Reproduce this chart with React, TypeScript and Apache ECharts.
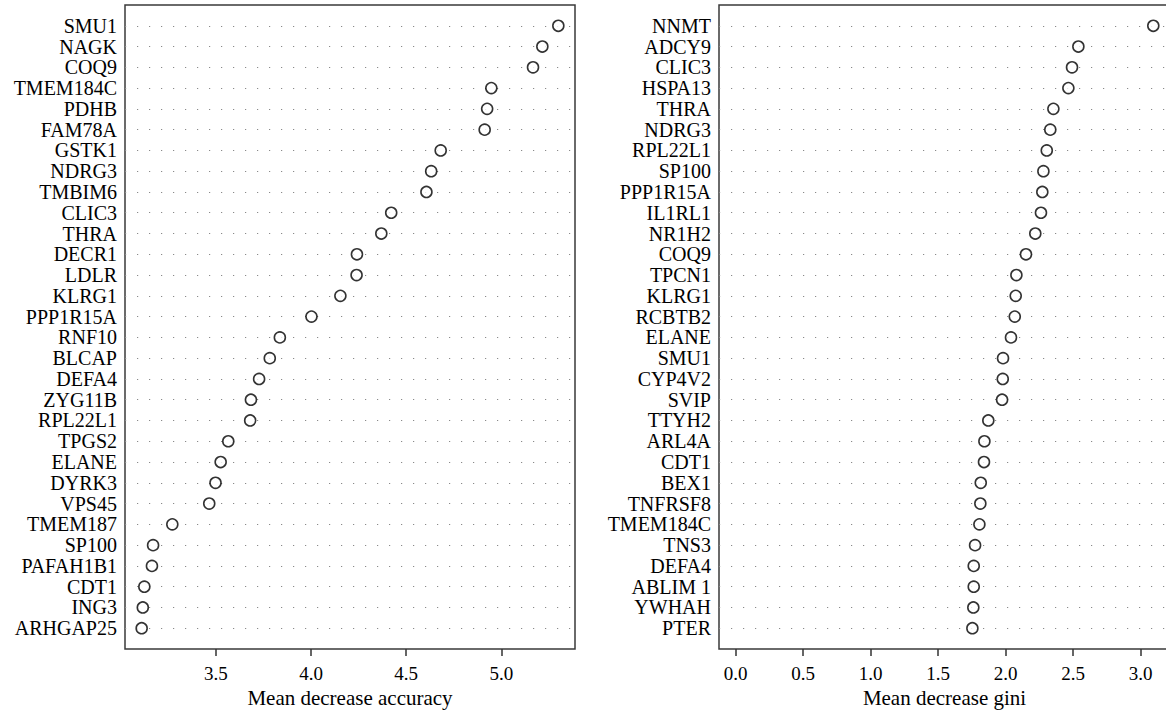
import React, { useEffect, useRef } from "react";
import * as echarts from "echarts";

// Left panel: Mean decrease accuracy (top to bottom)
const accGenes = [
  "SMU1", "NAGK", "COQ9", "TMEM184C", "PDHB", "FAM78A", "GSTK1", "NDRG3", "TMBIM6", "CLIC3",
  "THRA", "DECR1", "LDLR", "KLRG1", "PPP1R15A", "RNF10", "BLCAP", "DEFA4", "ZYG11B", "RPL22L1",
  "TPGS2", "ELANE", "DYRK3", "VPS45", "TMEM187", "SP100", "PAFAH1B1", "CDT1", "ING3", "ARHGAP25",
];
const accValues = [
  5.299, 5.215, 5.166, 4.947, 4.925, 4.912, 4.681, 4.631, 4.606, 4.421,
  4.369, 4.241, 4.239, 4.154, 4.002, 3.836, 3.783, 3.727, 3.684, 3.680,
  3.565, 3.525, 3.498, 3.465, 3.271, 3.170, 3.164, 3.124, 3.116, 3.110,
];
const accTicks = [3.5, 4.0, 4.5, 5.0];

// Right panel: Mean decrease gini (top to bottom)
const giniGenes = [
  "NNMT", "ADCY9", "CLIC3", "HSPA13", "THRA", "NDRG3", "RPL22L1", "SP100", "PPP1R15A", "IL1RL1",
  "NR1H2", "COQ9", "TPCN1", "KLRG1", "RCBTB2", "ELANE", "SMU1", "CYP4V2", "SVIP", "TTYH2",
  "ARL4A", "CDT1", "BEX1", "TNFRSF8", "TMEM184C", "TNS3", "DEFA4", "ABLIM 1", "YWHAH", "PTER",
];
const giniValues = [
  3.093, 2.538, 2.491, 2.464, 2.353, 2.330, 2.304, 2.279, 2.271, 2.261,
  2.219, 2.150, 2.079, 2.074, 2.067, 2.039, 1.980, 1.978, 1.973, 1.871,
  1.842, 1.839, 1.815, 1.812, 1.805, 1.773, 1.763, 1.763, 1.760, 1.753,
];
const giniTicks = [0.0, 0.5, 1.0, 1.5, 2.0, 2.5, 3.0];

const FONT = "'Liberation Serif', 'Times New Roman', serif";

export default function App() {
  const ref = useRef<HTMLDivElement>(null);

  useEffect(() => {
    if (!ref.current) return;
    const chart = echarts.init(ref.current, undefined, { renderer: "svg" });

    const accMin = Math.min(...accValues);
    const accMax = Math.max(...accValues);
    const accPad = (accMax - accMin) * 0.04;
    const giniMax = Math.max(...giniValues);
    const giniPad = giniMax * 0.04;

    const yCats = (genes: string[]) => ["", ...genes.slice().reverse(), ""];

    const yAxisCommon = (genes: string[], gridIndex: number) => ({
      type: "category" as const,
      gridIndex,
      data: yCats(genes),
      boundaryGap: false,
      axisLine: { show: false },
      axisTick: { show: false },
      axisLabel: {
        interval: 0,
        color: "#000",
        fontFamily: FONT,
        fontSize: 20,
        margin: 8,
      },
      splitLine: {
        show: true,
        interval: (index: number) => index > 0 && index < genes.length + 1,
        lineStyle: { color: "#8a8a8a", width: 1.2, type: [1.2, 10.8] },
      },
    });

    const xAxisCommon = (gridIndex: number, min: number, max: number, ticks: number[], name: string) => ({
      type: "value" as const,
      gridIndex,
      min,
      max,
      name,
      nameLocation: "middle" as const,
      nameGap: 36,
      nameTextStyle: { color: "#000", fontFamily: FONT, fontSize: 21 },
      axisLine: { show: false },
      axisTick: {
        show: true,
        length: 7,
        customValues: ticks,
        lineStyle: { color: "#333", width: 1.5 },
      },
      axisLabel: {
        customValues: ticks,
        formatter: (v: number) => v.toFixed(1),
        color: "#000",
        fontFamily: FONT,
        fontSize: 19,
        margin: 15,
      },
      splitLine: { show: false },
    });

    const scatterCommon = {
      type: "scatter" as const,
      symbol: "circle",
      symbolSize: 11,
      itemStyle: { color: "#fff", borderColor: "#000", borderWidth: 1.6 },
      emphasis: { disabled: true },
      z: 5,
    };

    chart.setOption({
      animation: false,
      backgroundColor: "#fff",
      grid: [
        { left: 125, top: 5, width: 450, height: 644, show: true, borderColor: "#3a3a3a", borderWidth: 1.5, backgroundColor: "transparent" },
        { left: 719, top: 5, width: 451, height: 644, show: true, borderColor: "#3a3a3a", borderWidth: 1.5, backgroundColor: "transparent" },
      ],
      xAxis: [
        xAxisCommon(0, accMin - accPad, accMax + accPad, accTicks, "Mean decrease accuracy"),
        xAxisCommon(1, -giniPad, giniMax + giniPad, giniTicks, "Mean decrease gini"),
      ],
      yAxis: [yAxisCommon(accGenes, 0), yAxisCommon(giniGenes, 1)],
      series: [
        { ...scatterCommon, xAxisIndex: 0, yAxisIndex: 0, data: accGenes.map((g, i) => [accValues[i], g]) },
        { ...scatterCommon, xAxisIndex: 1, yAxisIndex: 1, data: giniGenes.map((g, i) => [giniValues[i], g]) },
      ],
    });

    return () => chart.dispose();
  }, []);

  return (
    <div
      ref={ref}
      style={{ position: "fixed", left: 0, top: 0, width: 1170, height: 714, background: "#fff" }}
    />
  );
}
